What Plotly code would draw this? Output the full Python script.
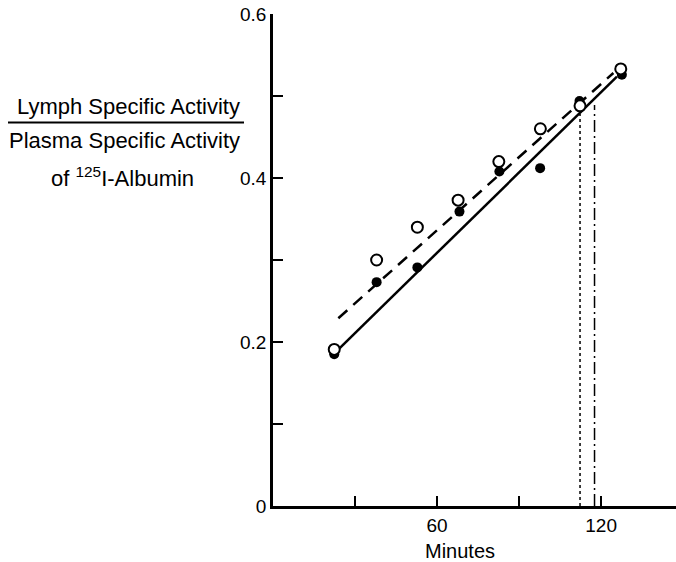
import plotly.graph_objects as go

# --- data ---
open_x = [22.4, 37.9, 52.8, 67.7, 82.6, 97.8, 112.3, 127.2]
open_y = [0.191, 0.300, 0.340, 0.373, 0.420, 0.460, 0.488, 0.533]
filled_x = [22.4, 37.9, 52.8, 68.2, 82.8, 97.7, 112.1, 127.6]
filled_y = [0.185, 0.273, 0.291, 0.359, 0.408, 0.412, 0.494, 0.526]

solid_x = [23.0, 125.8]
solid_y = [0.188, 0.5235]
dashed_x = [23.9, 124.5]
dashed_y = [0.229, 0.528]

dotted_x = [112.3, 112.3]
dotted_y = [0.0, 0.478]
dashdot_x = [117.6, 117.6]
dashdot_y = [0.0, 0.489]

x_tickvals = [60, 120]
x_ticktext = ["60", "120"]
y_tickvals = [0.0, 0.2, 0.4, 0.6]
y_ticktext = ["0", "0.2", "0.4", "0.6"]

FONT = "Liberation Sans, Arial, sans-serif"

fig = go.Figure()
fig.add_trace(go.Scatter(x=dotted_x, y=dotted_y, mode="lines",
                         line=dict(color="black", width=1.5, dash="dot"), showlegend=False))
fig.add_trace(go.Scatter(x=dashdot_x, y=dashdot_y, mode="lines",
                         line=dict(color="black", width=1.5, dash="12px,4px,2px,4px"), showlegend=False))
fig.add_trace(go.Scatter(x=solid_x, y=solid_y, mode="lines",
                         line=dict(color="black", width=2.5), showlegend=False))
fig.add_trace(go.Scatter(x=dashed_x, y=dashed_y, mode="lines",
                         line=dict(color="black", width=2.5, dash="12px,8px"), showlegend=False))
fig.add_trace(go.Scatter(x=filled_x, y=filled_y, mode="markers",
                         marker=dict(color="black", size=10, line=dict(width=0)), showlegend=False))
fig.add_trace(go.Scatter(x=open_x, y=open_y, mode="markers",
                         marker=dict(color="white", size=11, line=dict(color="black", width=2)),
                         showlegend=False))

fig.update_xaxes(range=[0, 147.4], showgrid=False, zeroline=False,
                 showline=True, linecolor="black", linewidth=2.5,
                 ticks="inside", ticklen=10, tickwidth=2, tickcolor="black",
                 tickvals=x_tickvals, ticktext=x_ticktext,
                 minor=dict(ticks="inside", tick0=0, dtick=30, ticklen=10,
                            tickwidth=2, tickcolor="black", showgrid=False),
                 tickfont=dict(family=FONT, size=19, color="black"))
fig.update_yaxes(range=[0, 0.6], showgrid=False, zeroline=False,
                 showline=True, linecolor="black", linewidth=2.5,
                 ticks="inside", ticklen=10, tickwidth=1.5, tickcolor="black",
                 tickvals=y_tickvals, ticktext=y_ticktext,
                 minor=dict(ticks="inside", tick0=0, dtick=0.1, ticklen=10,
                            tickwidth=1.5, tickcolor="black", showgrid=False),
                 tickfont=dict(family=FONT, size=19, color="black"))

def px_x(px):
    return (px - 273) / 403.0

def px_y(py):
    return (506 - py) / 492.0

def label(text, cx, cy, size):
    return dict(text=text, x=px_x(cx), y=px_y(cy), xref="paper", yref="paper",
                xanchor="center", yanchor="middle", showarrow=False,
                font=dict(family=FONT, size=size, color="black"))

annotations = [
    label("Minutes", 460, 551, 20),
    label("Lymph Specific Activity", 128, 107, 22),
    label("Plasma Specific Activity", 124, 140, 22),
    label("of <sup>125</sup>I-Albumin", 122, 177, 22),
]

fig.update_layout(
    width=676, height=562,
    margin=dict(l=273, r=0, t=14, b=56),
    paper_bgcolor="white", plot_bgcolor="white",
    annotations=annotations,
    shapes=[dict(type="line", xref="paper", yref="paper",
                 x0=px_x(8), x1=px_x(244), y0=px_y(122.5), y1=px_y(122.5),
                 line=dict(color="black", width=2))],
)

fig.write_html("out.html", config={"displayModeBar": False},
               post_script="document.body.style.margin='0px';document.body.style.overflow='hidden';")
